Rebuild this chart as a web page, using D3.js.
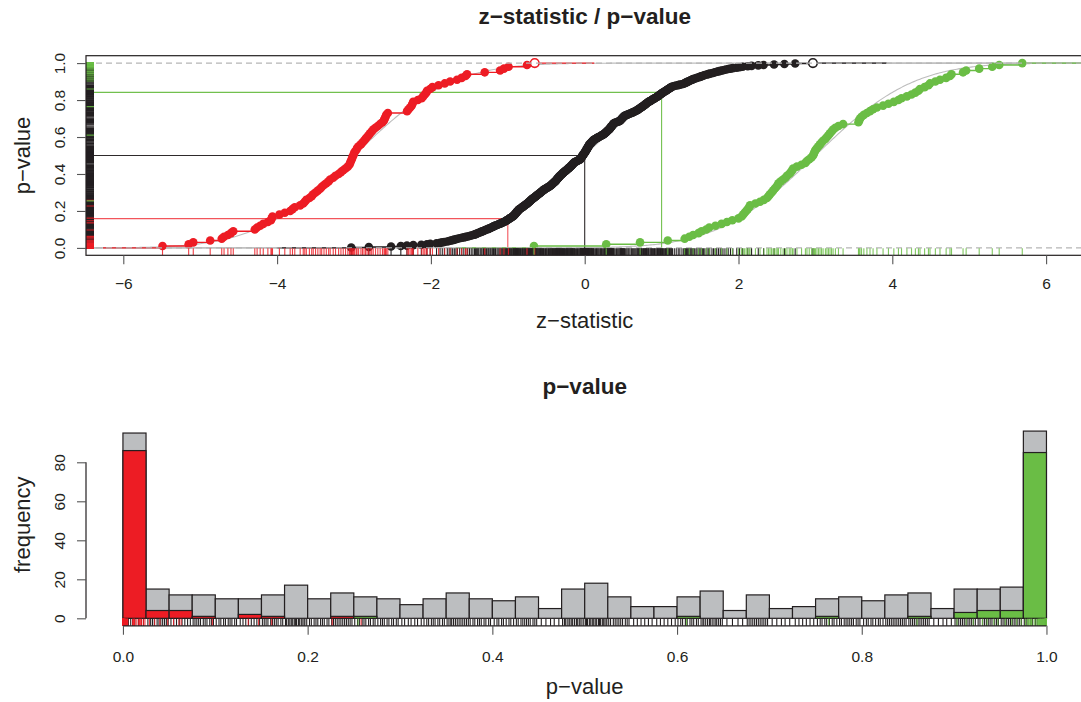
<!DOCTYPE html>
<html><head><meta charset="utf-8">
<script src="https://cdn.jsdelivr.net/npm/d3@7"></script>
<style>
body{margin:0;background:#fff;}
text{font-family:"Liberation Sans",Arial,Helvetica,sans-serif;fill:#231F20;}
</style>
</head><body>
<svg id="c" width="1081" height="702"></svg>
<script>
// ---------------- DATA ----------------
// z-statistics of the "low" (red) group, sorted
const redZ = [-5.49,-5.15,-5.09,-4.87,-4.72,-4.69,-4.64,-4.60,-4.57,-4.29,
-4.26,-4.22,-4.18,-4.12,-4.08,-4.07,-4.06,-3.97,-3.90,-3.83,
-3.80,-3.77,-3.70,-3.66,-3.64,-3.62,-3.58,-3.55,-3.53,-3.50,
-3.47,-3.44,-3.42,-3.39,-3.36,-3.33,-3.31,-3.27,-3.24,-3.20,
-3.17,-3.14,-3.11,-3.08,-3.06,-3.05,-3.04,-3.03,-3.02,-3.01,
-3.00,-2.99,-2.97,-2.96,-2.94,-2.91,-2.89,-2.87,-2.85,-2.83,
-2.81,-2.79,-2.77,-2.75,-2.72,-2.69,-2.66,-2.63,-2.61,-2.60,
-2.59,-2.58,-2.56,-2.31,-2.29,-2.27,-2.25,-2.24,-2.23,-2.17,
-2.12,-2.10,-2.08,-2.06,-2.05,-2.01,-1.98,-1.90,-1.82,-1.75,
-1.66,-1.60,-1.55,-1.53,-1.30,-1.10,-1.05,-0.99,-0.75,-0.65];
// z-statistics of the "high" (green) group, sorted
const greenZ = [-0.66,0.28,0.72,1.08,1.30,1.36,1.41,1.48,1.52,1.58,
1.62,1.70,1.78,1.85,1.92,2.00,2.04,2.06,2.08,2.10,
2.12,2.14,2.15,2.22,2.28,2.33,2.37,2.39,2.41,2.43,
2.45,2.47,2.49,2.51,2.52,2.55,2.58,2.61,2.63,2.66,
2.68,2.70,2.71,2.76,2.82,2.87,2.89,2.92,2.95,2.97,
2.98,2.99,3.00,3.02,3.04,3.06,3.08,3.10,3.13,3.15,
3.17,3.19,3.21,3.23,3.26,3.30,3.36,3.56,3.57,3.58,
3.60,3.63,3.67,3.71,3.75,3.80,3.88,3.95,4.02,4.08,
4.12,4.19,4.25,4.30,4.34,4.36,4.42,4.47,4.49,4.56,
4.62,4.70,4.75,4.77,4.92,4.96,5.13,5.30,5.39,5.69];
// p-values of the null (black) group, sorted
const nullP = [0.0012,0.0025,0.0059,0.0084,0.0104,0.0129,0.0168,0.0201,0.0223,
0.027,0.030,0.032,0.034,0.037,0.039,0.041,0.043,0.045,0.047,0.049,
0.052,0.055,0.058,0.061,0.064,0.067,0.070,0.073,
0.076,0.078,0.080,0.082,0.084,0.087,0.089,0.091,0.094,0.096,0.098,
0.101,0.104,0.106,0.109,0.111,0.114,0.116,0.118,0.121,0.123,
0.127,0.130,0.133,0.136,0.139,0.142,0.145,0.148,
0.151,0.153,0.155,0.157,0.160,0.162,0.164,0.166,0.168,0.171,0.173,
0.176,0.177,0.179,0.180,0.182,0.183,0.184,0.186,0.187,0.188,0.190,0.191,0.193,0.194,0.196,0.197,0.199,
0.202,0.204,0.207,0.209,0.211,0.214,0.216,0.218,0.221,0.223,
0.226,0.228,0.230,0.232,0.234,0.236,0.238,0.240,0.242,0.244,0.246,0.248,
0.251,0.254,0.256,0.259,0.261,0.263,0.266,0.268,0.271,0.273,
0.276,0.279,0.281,0.283,0.286,0.288,0.291,0.293,0.296,0.298,
0.302,0.305,0.309,0.312,0.316,0.319,0.323,
0.326,0.329,0.331,0.334,0.336,0.338,0.341,0.343,0.346,0.348,
0.351,0.353,0.355,0.356,0.358,0.360,0.362,0.364,0.366,0.368,0.370,0.372,0.374,
0.376,0.379,0.381,0.384,0.386,0.388,0.391,0.393,0.396,0.398,
0.402,0.405,0.407,0.410,0.412,0.415,0.418,0.420,0.423,
0.426,0.428,0.431,0.433,0.435,0.437,0.439,0.441,0.444,0.446,0.448,
0.453,0.458,0.463,0.467,0.472,
0.476,0.478,0.479,0.481,0.483,0.484,0.486,0.487,0.489,0.491,0.492,0.494,0.495,0.497,0.499,
0.501,0.502,0.503,0.505,0.506,0.508,0.509,0.510,0.512,0.513,0.515,0.516,0.517,0.519,0.520,0.521,0.523,0.524,
0.526,0.528,0.531,0.533,0.535,0.537,0.539,0.541,0.544,0.546,0.548,
0.553,0.557,0.561,0.565,0.569,0.573,
0.578,0.582,0.586,0.590,0.594,0.598,
0.601,0.604,0.606,0.609,0.611,0.614,0.616,0.618,0.621,0.623,
0.626,0.628,0.629,0.631,0.633,0.635,0.636,0.638,0.640,0.642,0.643,0.645,0.647,0.649,
0.654,0.660,0.666,0.671,
0.676,0.678,0.680,0.682,0.684,0.686,0.688,0.690,0.692,0.694,0.696,0.698,
0.703,0.708,0.713,0.717,0.722,
0.728,0.732,0.736,0.740,0.744,0.748,
0.752,0.755,0.757,0.760,0.762,0.765,0.768,0.770,0.773,
0.776,0.778,0.781,0.783,0.785,0.787,0.789,0.791,0.794,0.796,0.798,
0.802,0.805,0.807,0.810,0.812,0.815,0.818,0.820,0.823,
0.826,0.828,0.830,0.832,0.834,0.836,0.838,0.840,0.842,0.844,0.846,0.848,
0.851,0.853,0.855,0.857,0.859,0.861,0.863,0.865,0.867,0.869,0.871,0.873,
0.878,0.883,0.888,0.892,0.897,
0.901,0.903,0.905,0.907,0.909,0.911,0.913,0.915,0.917,0.919,0.921,0.923,
0.926,0.928,0.931,0.933,0.935,0.937,0.939,0.941,0.944,0.946,0.948,
0.951,0.953,0.955,0.957,0.959,0.961,0.963,0.965,0.967,0.969,0.971,0.973,
0.976,0.978,0.980,0.983,0.985,0.988,0.990,0.9931,0.9953,0.9969,0.9985];
// histogram counts per 0.025-wide bin (40 bins, 0 .. 1)
const histTotal = [95,15,12,12,10,10,12,17,10,13,11,10,7,10,13,10,9,11,5,15,
                   18,11,6,6,11,14,4,12,5,6,10,11,9,12,13,5,15,15,16,96];
const histRed   = [86,4,4,1,0,2,1,0,0,1,0,0,0,0,0,0,0,0,0,0,
                   0,0,0,0,0,0,0,0,0,0,0,0,0,0,0,0,0,0,0,0];
const histGreen = [0,0,0,0,0,0,0,0,0,0,1,0,0,0,0,0,0,0,0,0,
                   0,0,0,0,1,0,0,0,0,0,1,0,0,0,1,0,3,4,4,85];
const histBinWidth = 0.025;
// reference z values (horizontal/vertical guide lines) and model curve means
const refZ = [-1, 0, 1];
const curveMeans = [-3, 0, 3];
// tick values
const xTicksTop = [-6,-4,-2,0,2,4,6];
const yTicksTop = [0,0.2,0.4,0.6,0.8,1.0];
const xTicksBottom = [0,0.2,0.4,0.6,0.8,1.0];
const yTicksBottom = [0,20,40,60,80];

// ---------------- HELPERS ----------------
function pnorm(x){
  const z = Math.abs(x)/Math.SQRT2;
  const t = 1/(1+0.3275911*z);
  const y = 1 - (((((1.061405429*t - 1.453152027)*t) + 1.421413741)*t - 0.284496736)*t + 0.254829592)*t*Math.exp(-z*z);
  return x >= 0 ? 0.5*(1+y) : 0.5*(1-y);
}
function qnorm(p){
  const a=[-3.969683028665376e+01,2.209460984245205e+02,-2.759285104469687e+02,1.383577518672690e+02,-3.066479806614716e+01,2.506628277459239e+00];
  const b=[-5.447609879822406e+01,1.615858368580409e+02,-1.556989798598866e+02,6.680131188771972e+01,-1.328068155288572e+01];
  const c=[-7.784894002430293e-03,-3.223964580411365e-01,-2.400758277161838e+00,-2.549732539343734e+00,4.374664141464968e+00,2.938163982698783e+00];
  const d=[7.784695709041462e-03,3.224671290700398e-01,2.445134137142996e+00,3.754408661907416e+00];
  const pl=0.02425, ph=1-pl; let q,r;
  if(p<pl){q=Math.sqrt(-2*Math.log(p));return (((((c[0]*q+c[1])*q+c[2])*q+c[3])*q+c[4])*q+c[5])/((((d[0]*q+d[1])*q+d[2])*q+d[3])*q+1);}
  if(p>ph){q=Math.sqrt(-2*Math.log(1-p));return -(((((c[0]*q+c[1])*q+c[2])*q+c[3])*q+c[4])*q+c[5])/((((d[0]*q+d[1])*q+d[2])*q+d[3])*q+1);}
  q=p-0.5;r=q*q;return (((((a[0]*r+a[1])*r+a[2])*r+a[3])*r+a[4])*r+a[5])*q/(((((b[0]*r+b[1])*r+b[2])*r+b[3])*r+b[4])*r+1);
}

const COL = {red:"#ED1C24", black:"#231F20", green:"#6ABD45", bar:"#BCBEC0",
             curve:"#BDBDBD", dash:"#B5B5B5", axis:"#231F20", tick:"#555"};
const nullZ = nullP.map(qnorm);
const series = [
  {z: redZ.slice().sort((a,b)=>a-b),   col: COL.red,   hollowLast: true},
  {z: nullZ.slice().sort((a,b)=>a-b),  col: COL.black, hollowLast: true},
  {z: greenZ.slice().sort((a,b)=>a-b), col: COL.green, hollowLast: false}
];
const refCols = [COL.red, COL.black, COL.green];

const svg = d3.select("#c");

// ================= TOP PANEL =================
const T = {l:86, r:1083.4, t:55.7, b:255.3};
const x1 = d3.scaleLinear().domain([-6.485, 6.485]).range([T.l, T.r]);
const y1 = d3.scaleLinear().domain([-0.04, 1.04]).range([T.b, T.t]);

svg.append("clipPath").attr("id","clipT").append("rect")
  .attr("x",T.l).attr("y",T.t).attr("width",T.r-T.l).attr("height",T.b-T.t);
const gT = svg.append("g").attr("clip-path","url(#clipT)");

// model curves
const xs = d3.range(-6.6, 6.61, 0.02);
curveMeans.forEach(m=>{
  gT.append("path")
    .attr("d", d3.line().x(d=>x1(d)).y(d=>y1(pnorm(d-m)))(xs))
    .attr("fill","none").attr("stroke",COL.curve).attr("stroke-width",1.1);
});

// reference lines
refZ.forEach((z,i)=>{
  const p = pnorm(z);
  gT.append("path")
    .attr("d", `M${x1.range()[0]},${y1(p)}H${x1(z)}V${y1(-0.04)}`)
    .attr("fill","none").attr("stroke",refCols[i]).attr("stroke-width",1.1)
    .attr("stroke-opacity", i===0?0.75:0.95);
});

// step lines (ECDF, horizontal segments)
series.forEach(s=>{
  const z = s.z, n = z.length;
  const rx = d3.extent(z);
  const dr = Math.max(0.08*(rx[1]-rx[0]), d3.median(d3.pairs(z).map(([a,b])=>b-a)));
  const t0 = rx[0]-2*dr, t1 = rx[1]+2*dr;
  let d = `M${x1(t0)},${y1(0)}H${x1(z[0])}`;
  for(let i=0;i<n-1;i++) d += `M${x1(z[i])},${y1((i+1)/n)}H${x1(z[i+1])}`;
  d += `M${x1(z[n-1])},${y1(1)}H${x1(t1)}`;
  gT.append("path").attr("d",d).attr("fill","none").attr("stroke",s.col).attr("stroke-width",1.4);
});

// points
series.forEach(s=>{
  const n = s.z.length;
  gT.append("g").selectAll("circle").data(s.z).join("circle")
    .attr("cx",d=>x1(d)).attr("cy",(d,i)=>y1((i+1)/n)).attr("r",4.3)
    .attr("fill",(d,i)=> (s.hollowLast && i===n-1) ? "#fff" : s.col)
    .attr("stroke",(d,i)=> (s.hollowLast && i===n-1) ? s.col : "none")
    .attr("stroke-width",1.6);
});

// dashed 0/1 lines
[0,1].forEach(v=>{
  gT.append("line").attr("x1",T.l).attr("x2",T.r).attr("y1",y1(v)).attr("y2",y1(v))
    .attr("stroke",COL.dash).attr("stroke-width",1.1).attr("stroke-dasharray","6,4");
});

// rugs: x (z values) and y (p values)
const rugOrder = [series[1], series[0], series[2]];
rugOrder.forEach(s=>{
  const op = s.col===COL.black ? 1 : 0.85;
  gT.append("g").selectAll("line").data(s.z).join("line")
    .attr("x1",d=>x1(d)).attr("x2",d=>x1(d)).attr("y1",T.b).attr("y2",T.b-7)
    .attr("stroke",s.col).attr("stroke-width",1.1).attr("stroke-opacity",op);
  gT.append("g").selectAll("line").data(s.z.map(pnorm)).join("line")
    .attr("y1",d=>y1(d)).attr("y2",d=>y1(d)).attr("x1",T.l).attr("x2",T.l+8)
    .attr("stroke",s.col).attr("stroke-width",1.1).attr("stroke-opacity",op);
});

// box
svg.append("rect").attr("x",T.l).attr("y",T.t).attr("width",T.r-T.l).attr("height",T.b-T.t)
  .attr("fill","none").attr("stroke",COL.axis).attr("stroke-width",1.2);

// axes
function styleAxis(g){
  g.select(".domain").remove();
  g.selectAll(".tick line").attr("stroke",COL.tick).attr("stroke-width",1.1);
  g.selectAll(".tick text").style("font-size","15.5px").attr("fill","#231F20");
}
const axT = svg.append("g").attr("transform",`translate(0,${T.b})`)
  .call(d3.axisBottom(x1).tickValues(xTicksTop).tickSize(9).tickFormat(d3.format("d")));
styleAxis(axT);
axT.selectAll(".tick text").attr("y",34).attr("dy",null);

const ayT = svg.append("g").attr("transform",`translate(${T.l},0)`)
  .call(d3.axisLeft(y1).tickValues(yTicksTop).tickSize(9).tickFormat(d3.format(".1f")));
styleAxis(ayT);
ayT.selectAll(".tick text").attr("transform","rotate(-90)").attr("x",0).attr("y",-27)
  .attr("dy","0.36em").attr("text-anchor","middle");

// titles
svg.append("text").attr("x",(T.l+T.r)/2).attr("y",24).attr("text-anchor","middle")
  .style("font-size","22.5px").style("font-weight","bold").text("z\u2212statistic / p\u2212value");
svg.append("text").attr("x",(T.l+T.r)/2).attr("y",328).attr("text-anchor","middle")
  .style("font-size","22px").text("z\u2212statistic");
svg.append("text").attr("transform",`translate(24,${(T.t+T.b)/2}) rotate(-90)`).attr("dy","0.26em")
  .attr("text-anchor","middle").style("font-size","22px").text("p\u2212value");

// ================= BOTTOM PANEL =================
const B = {l:86, r:1083.4, t:423.6, b:625.8};
const x2 = d3.scaleLinear().domain([-0.04, 1.04]).range([B.l, B.r]);
const y2 = d3.scaleLinear().domain([-3.84, 99.84]).range([B.b, B.t]);

function bars(counts, fill){
  svg.append("g").selectAll("rect").data(counts.map((c,i)=>({c,i})).filter(d=>d.c>0)).join("rect")
    .attr("x",d=>x2(d.i*histBinWidth)).attr("width",d=>x2((d.i+1)*histBinWidth)-x2(d.i*histBinWidth))
    .attr("y",d=>y2(d.c)).attr("height",d=>y2(0)-y2(d.c))
    .attr("fill",fill).attr("stroke",COL.axis).attr("stroke-width",1.2);
}
bars(histTotal, COL.bar);
bars(histRed, COL.red);
bars(histGreen, COL.green);

// rug of p-values
[{p:nullP, col:COL.black, op:1},
 {p:series[0].z.map(pnorm), col:COL.red, op:0.85},
 {p:series[2].z.map(pnorm), col:COL.green, op:0.85}].forEach(r=>{
  svg.append("g").selectAll("line").data(r.p).join("line")
    .attr("x1",d=>x2(d)).attr("x2",d=>x2(d)).attr("y1",B.b).attr("y2",B.b-7)
    .attr("stroke",r.col).attr("stroke-width",1.1).attr("stroke-opacity",r.op);
});

// axes
svg.append("line").attr("x1",x2(xTicksBottom[0])).attr("x2",x2(xTicksBottom[xTicksBottom.length-1]))
  .attr("y1",B.b).attr("y2",B.b).attr("stroke",COL.axis).attr("stroke-width",1.2);
const axB = svg.append("g").attr("transform",`translate(0,${B.b})`)
  .call(d3.axisBottom(x2).tickValues(xTicksBottom).tickSize(9).tickFormat(d3.format(".1f")));
styleAxis(axB);
axB.selectAll(".tick text").attr("y",36).attr("dy",null);

svg.append("line").attr("x1",B.l).attr("x2",B.l).attr("y1",y2(yTicksBottom[0]))
  .attr("y2",y2(yTicksBottom[yTicksBottom.length-1])).attr("stroke",COL.axis).attr("stroke-width",1.2);
const ayB = svg.append("g").attr("transform",`translate(${B.l},0)`)
  .call(d3.axisLeft(y2).tickValues(yTicksBottom).tickSize(9).tickFormat(d3.format("d")));
styleAxis(ayB);
ayB.selectAll(".tick text").attr("transform","rotate(-90)").attr("x",0).attr("y",-27)
  .attr("dy","0.36em").attr("text-anchor","middle");

svg.append("text").attr("x",(B.l+B.r)/2).attr("y",394).attr("text-anchor","middle")
  .style("font-size","22.5px").style("font-weight","bold").text("p\u2212value");
svg.append("text").attr("x",(B.l+B.r)/2).attr("y",694).attr("text-anchor","middle")
  .style("font-size","22px").text("p\u2212value");
svg.append("text").attr("transform",`translate(24,${(B.t+B.b)/2}) rotate(-90)`).attr("dy","0.26em")
  .attr("text-anchor","middle").style("font-size","22px").text("frequency");
</script>
</body></html>
